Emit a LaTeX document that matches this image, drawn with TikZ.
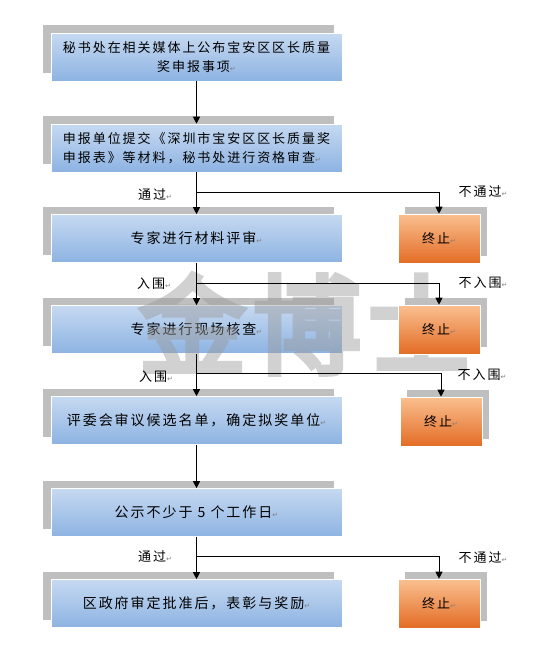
\documentclass[tikz,border=0pt]{standalone}
\usepackage{fontspec}
\newfontfamily\cjk[LetterSpace=15]{Noto Sans CJK SC}
\newfontfamily\cjkw[LetterSpace=14]{Noto Sans CJK SC}
\newfontfamily\wmfont[FakeBold=5,LetterSpace=6]{Noto Sans CJK SC}
\newfontfamily\dejavu{DejaVu Sans}
\usetikzlibrary{arrows.meta,shadows}
\definecolor{bluetop}{HTML}{C6D9F1}
\definecolor{bluebot}{HTML}{8DB3E2}
\definecolor{orangetop}{HTML}{FAC090}
\definecolor{orangebot}{HTML}{E36C25}
\newcommand{\retmark}{{\dejavu\fontsize{7}{7}\selectfont\color{gray}↵}}

\begin{document}
\begin{tikzpicture}[x=1pt,y=-1pt,
  stage/.style={rectangle,draw=white,line width=0.6pt,top color=bluetop,bottom color=bluebot,
    minimum width=291pt,minimum height=48pt,inner sep=0pt,
    drop shadow={shadow xshift=-8pt,shadow yshift=8pt,fill=black!25,draw=none,opacity=1}},
  twoline/.style={font=\cjk\fontsize{13}{19}\selectfont},
  oneline/.style={font=\cjkw\fontsize{14}{19}\selectfont},
  stopbox/.style={rectangle,draw=white,line width=0.6pt,top color=orangetop,bottom color=orangebot,
    minimum width=82pt,minimum height=49pt,inner sep=0pt,font=\cjk\fontsize{13}{19}\selectfont,
    drop shadow={shadow xshift=7pt,shadow yshift=7pt,fill=black!25,draw=none,opacity=1}},
  lbl/.style={font=\cjk\fontsize{13}{13}\selectfont,inner sep=0pt},
  flow/.style={-{Triangle[length=7pt,width=7pt]},line width=0.9pt,black}]
\useasboundingbox (0,0) rectangle (549,651);

\node[stage,twoline,align=center] (b1) at (196.5,57) {秘书处在相关媒体上公布宝安区区长质量\\奖申报事项\retmark};
\node[stage,twoline,align=left] (b2) at (196.5,148) {申报单位提交《深圳市宝安区区长质量奖\\申报表》等材料，秘书处进行资格审查\retmark};
\node[stage,oneline] (b3) at (196.5,238.5) {专家进行材料评审\retmark};
\node[stage,oneline] (b4) at (196.5,329.5) {专家进行现场核查\retmark};
\node[stage,oneline] (b5) at (196.5,420.5) {评委会审议候选名单，确定拟奖单位\retmark};
\node[stage,oneline] (b6) at (196.5,512.5) {公示不少于 5 个工作日\retmark};
\node[stage,oneline] (b7) at (196.5,603.5) {区政府审定批准后，表彰与奖励\retmark};

\begin{scope}[transparency group,opacity=0.45]
\node[text=black!40,font=\wmfont\fontsize{108}{108}\selectfont,inner sep=0pt] (wm) at (307,324) {金博士};
\end{scope}

\node[stopbox] (s1) at (439,238.5) {终止\retmark};
\node[stopbox] (s2) at (439,329.5) {终止\retmark};
\node[stopbox] (s3) at (441,421.5) {终止\retmark};
\node[stopbox] (s4) at (439,603.5) {终止\retmark};

\coordinate (j1) at (196.5,192);
\coordinate (j2) at (196.5,283);
\coordinate (j3) at (196.5,373);
\coordinate (j4) at (196.5,556);

\draw[flow] (b1.south) -- (b2.north);
\draw[flow] (b2.south) -- (b3.north);
\draw[flow] (b3.south) -- (b4.north);
\draw[flow] (b4.south) -- (b5.north);
\draw[flow] (b5.south) -- (b6.north);
\draw[flow] (b6.south) -- (b7.north);
\draw[flow] (j1) -| (s1.north);
\draw[flow] (j2) -| (s2.north);
\draw[flow] (j3) -| (s3.north);
\draw[flow] (j4) -| (s4.north);

\node[lbl] (p1) at (155,195) {通过\retmark};
\node[lbl] (f1) at (483,192) {不通过\retmark};
\node[lbl] (p2) at (154,284) {入围\retmark};
\node[lbl] (f2) at (483,283) {不入围\retmark};
\node[lbl] (p3) at (156,377) {入围\retmark};
\node[lbl] (f3) at (482,375) {不入围\retmark};
\node[lbl] (p4) at (155,557) {通过\retmark};
\node[lbl] (f4) at (483,558) {不通过\retmark};

\end{tikzpicture}
\end{document}
